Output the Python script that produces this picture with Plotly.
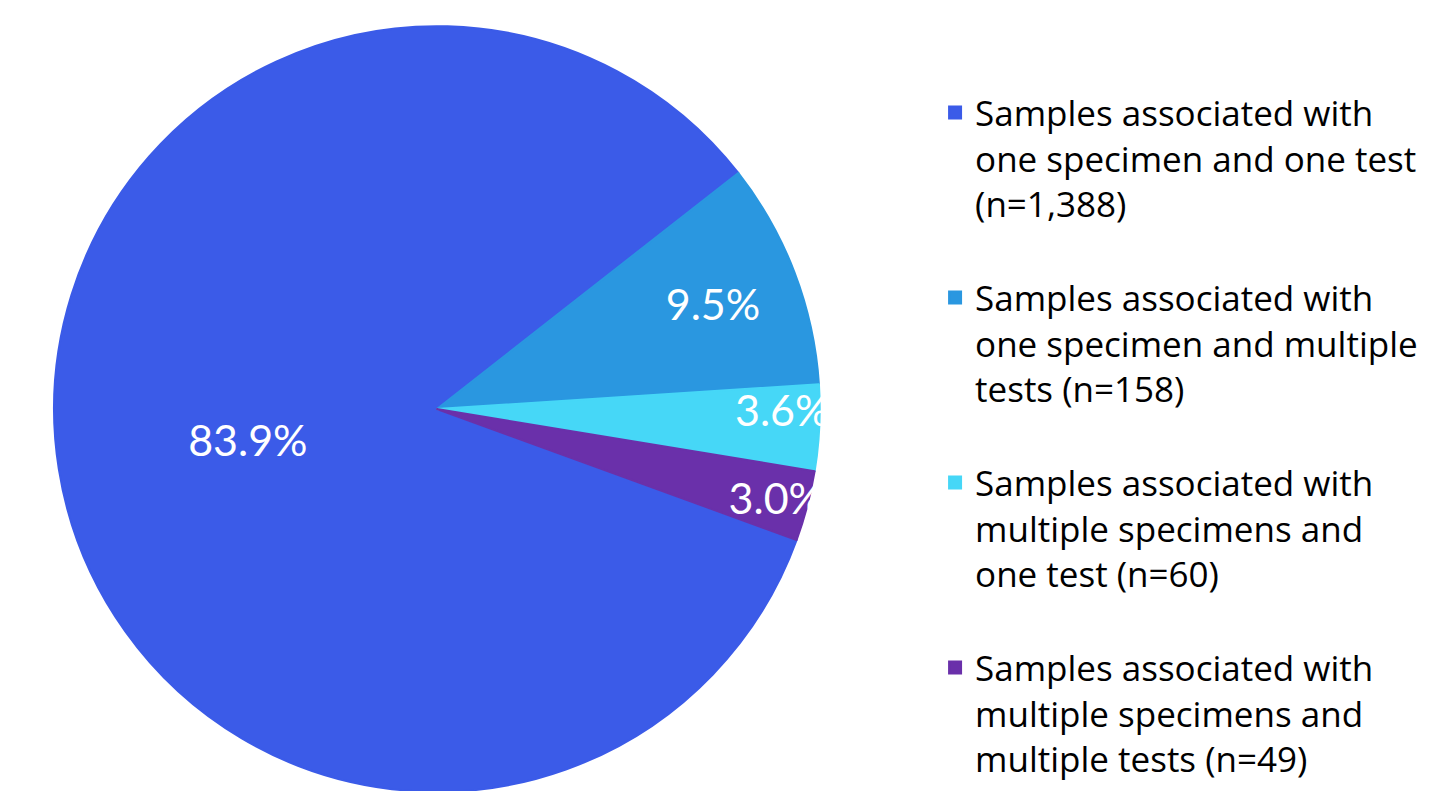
import plotly.graph_objects as go

labels = [
    "Samples associated with<br>one specimen and one test<br>(n=1,388)",
    "Samples associated with<br>one specimen and multiple<br>tests (n=158)",
    "Samples associated with<br>multiple specimens and<br>one test (n=60)",
    "Samples associated with<br>multiple specimens and<br>multiple tests (n=49)",
]
counts = [1388, 158, 60, 49]
colors = ["#3B5BE8", "#2A97E0", "#46D7F7", "#6A30AA"]

LABEL_FONT = "Lato, Open Sans, sans-serif"
LEGEND_FONT = "Open Sans, Lato, sans-serif"

fig = go.Figure(
    go.Pie(
        # trailing blank line gives the gap between legend entries
        labels=[lab + "<br> " for lab in labels],
        values=counts,
        sort=False,
        direction="clockwise",
        rotation=110,
        marker=dict(colors=colors, line=dict(color=colors, width=2)),
        texttemplate="%{percent:.1%}",
        textposition="inside",
        insidetextorientation="horizontal",
        textfont=dict(family=LABEL_FONT, size=43, color="white"),
        domain=dict(x=[0.0312, 0.5645], y=[0.009, 0.977]),
        hoverinfo="label+value+percent",
    )
)

fig.update_layout(
    width=1440,
    height=791,
    margin=dict(l=0, r=0, t=0, b=0, autoexpand=False),
    paper_bgcolor="white",
    plot_bgcolor="white",
    font=dict(family=LEGEND_FONT, color="black"),
    uniformtext=dict(minsize=43, mode="show"),
    legend=dict(
        x=0.6438,
        y=0.905,
        xanchor="left",
        yanchor="top",
        valign="top",
        maxheight=791,
        font=dict(family=LEGEND_FONT, size=35, color="black"),
        traceorder="normal",
    ),
)

fig.write_html("out.html")
